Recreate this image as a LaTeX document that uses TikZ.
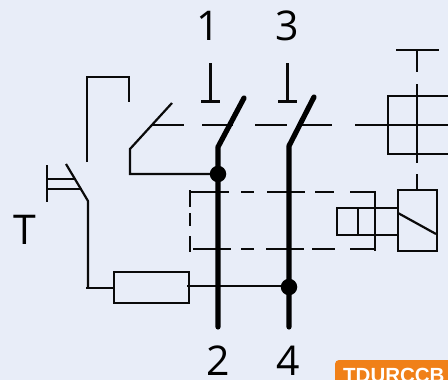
\documentclass[tikz,border=0pt]{standalone}
\usepackage{fontspec}
\setmainfont{Open Sans}
\newfontfamily\badgefont{Liberation Sans}[BoldFont={Liberation Sans Bold}]
\definecolor{bgc}{HTML}{E8EDF8}
\definecolor{badgec}{HTML}{F08018}
\definecolor{inkc}{HTML}{0A0A0A}
\tikzset{
  wire/.style={draw=inkc,line width=2.2pt,line cap=butt},
  bar/.style={draw=black,line width=5.2pt,line cap=round,line join=round},
  stub/.style={draw=inkc,line width=3pt},
  dot/.style={circle,fill=black,minimum size=16.5pt,inner sep=0pt},
  lab/.style={font=\fontsize{41}{41}\selectfont,text=black,inner sep=0pt,anchor=center}
}
\begin{document}
\begin{tikzpicture}[x=1pt,y=-1pt]
\useasboundingbox (0,0) rectangle (448,380);
\clip (0,0) rectangle (448,380);
\fill[bgc] (0,0) rectangle (448,380);
% labels
\node[lab] (n1) at (208,26) {1};
\node[lab] (n3) at (287,26) {3};
\node[lab] (n2) at (218,361) {2};
\node[lab] (n4) at (288,361) {4};
\node[lab] (nT) at (24.5,230) {T};
% terminal stubs
\draw[stub] (210,63) -- (210,101);
\draw[stub] (201,101) -- (220,101);
\draw[stub] (287,63) -- (287,101);
\draw[stub] (278,101) -- (297,101);
% auxiliary contact and test loop
\draw[wire] (87,162) -- (87,77) -- (129,77) -- (129,102);
\draw[wire] (172,103) -- (130,149) -- (130,174) -- (218,174);
\draw[wire] (152,125) -- (184,125);
\draw[wire] (202,125) -- (233,125);
\draw[wire] (255,125) -- (287,125);
\draw[wire] (302,125) -- (332,125);
\draw[wire] (355,125) -- (448,125);
% test button
\draw[wire] (47,165) -- (47,202);
\draw[wire] (47,179) -- (75,179);
\draw[wire] (47,189) -- (82,189);
\draw[wire] (66,164) -- (88,201) -- (88,288);
\draw[wire] (86,288) -- (114,288);
\node[draw=inkc,line width=2.2pt,minimum width=75pt,minimum height=31pt,inner sep=0pt] (res) at (151.5,287.5) {};
\draw[wire] (187,286) -- (289,286);
% dashed frame
\draw[wire] (190,192) -- (229,192);
\draw[wire] (241,192) -- (254,192);
\draw[wire] (267,192) -- (305,192);
\draw[wire] (315,192) -- (334,192);
\draw[wire] (350,192) -- (376,192);
\draw[wire] (193,249) -- (231,249);
\draw[wire] (241,249) -- (254,249);
\draw[wire] (266,249) -- (304,249);
\draw[wire] (312,249) -- (335,249);
\draw[wire] (350,249) -- (376,249);
\draw[wire] (190,190) -- (190,207);
\draw[wire] (190,213) -- (190,226);
\draw[wire] (190,236) -- (190,252);
\draw[wire] (375,191) -- (375,251);
% right mechanism
\draw[wire] (396,50) -- (439,50);
\draw[wire] (417,50) -- (417,72);
\draw[wire] (417,84) -- (417,163);
\draw[wire] (417,174) -- (417,190);
\draw[wire] (448,96) -- (388,96) -- (388,154) -- (448,154);
\node[draw=inkc,line width=2.2pt,minimum width=39pt,minimum height=61pt,inner sep=0pt] (coil) at (417.5,220.5) {};
\draw[wire] (398,213) -- (436,234);
\draw[wire] (398,208) -- (337,208) -- (337,235) -- (398,235);
\draw[wire] (358,208) -- (358,236);
% main poles
\draw[bar] (244,98) -- (218,147) -- (218,327);
\draw[bar] (314,97) -- (289,146) -- (289,327);
\node[dot] (d1) at (218,174) {};
\node[dot] (d2) at (289,287) {};
% badge
\fill[badgec,rounded corners=4pt] (335,360) rectangle (470,400);
\node[inner sep=0pt,anchor=base west,text=white,font=\badgefont\bfseries\fontsize{20.5}{20.5}\selectfont] (badge) at (343,382.5) {TDURCCB};
\end{tikzpicture}
\end{document}
